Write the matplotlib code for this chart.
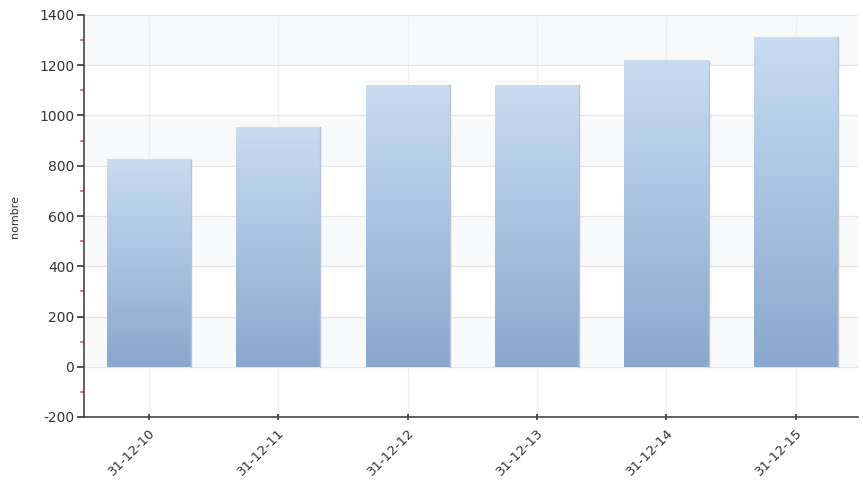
import numpy as np
import matplotlib.pyplot as plt
from matplotlib.colors import LinearSegmentedColormap
from matplotlib.ticker import MultipleLocator

plt.rcParams["axes.unicode_minus"] = False

categories = ["31-12-10", "31-12-11", "31-12-12", "31-12-13", "31-12-14", "31-12-15"]
values = [824, 955, 1120, 1120, 1218, 1313]
y_label = "nombre"

fig = plt.figure(figsize=(8.63, 4.83), dpi=100)
ax = fig.add_axes([84 / 863, 66 / 483, 774 / 863, 402 / 483])

ax.set_xlim(-0.5, 5.48)
ax.set_ylim(-200, 1400)

# faint alternating horizontal bands
for k, y0 in enumerate(range(-200, 1400, 200)):
    if k % 2 == 1:
        ax.axhspan(y0, y0 + 200, color="#f8f9fb", zorder=0, lw=0)

ax.grid(True, axis="y", color="#e6e6e6", lw=0.9, zorder=1)
ax.grid(True, axis="x", color="#efefef", lw=0.9, zorder=1)
ax.set_axisbelow(True)

cmap = LinearSegmentedColormap.from_list("barfill", ["#8aa8cc", "#a8c2e0", "#c8dcf1"])
grad = np.linspace(0, 1, 256).reshape(-1, 1)
width = 0.65
x = np.arange(len(categories))
bars = ax.bar(x, values, width=width, color="none", edgecolor="none", zorder=2)
for b in bars:
    x0, w, h = b.get_x(), b.get_width(), b.get_height()
    ax.imshow(grad, cmap=cmap, origin="lower", aspect="auto",
              extent=(x0, x0 + w, 0, h), zorder=3, interpolation="bicubic")
    ax.plot([x0 + w, x0 + w], [0, h], color="#b9c3cf", lw=1.0, zorder=3.5)

ax.set_xticks(x)
ax.set_xticklabels(categories, rotation=45, ha="right", rotation_mode="anchor",
                   fontsize=9.5, color="#333333")
ax.yaxis.set_major_locator(MultipleLocator(200))
ax.yaxis.set_minor_locator(MultipleLocator(100))
ax.tick_params(axis="y", which="major", length=5, width=1.2, color="#333333",
               labelsize=10, labelcolor="#333333", pad=2)
ax.tick_params(axis="y", which="minor", length=3, width=1.2, color="#e06070")
ax.tick_params(axis="x", which="major", length=5, width=1.2, color="#333333",
               direction="inout", pad=4)

for s in ["top", "right"]:
    ax.spines[s].set_visible(False)
for s in ["left", "bottom"]:
    ax.spines[s].set_color("#444444")
    ax.spines[s].set_linewidth(1.2)

ax.set_ylabel(y_label, fontsize=8, color="#333333", labelpad=14)

fig.savefig("out.png", dpi=100)
